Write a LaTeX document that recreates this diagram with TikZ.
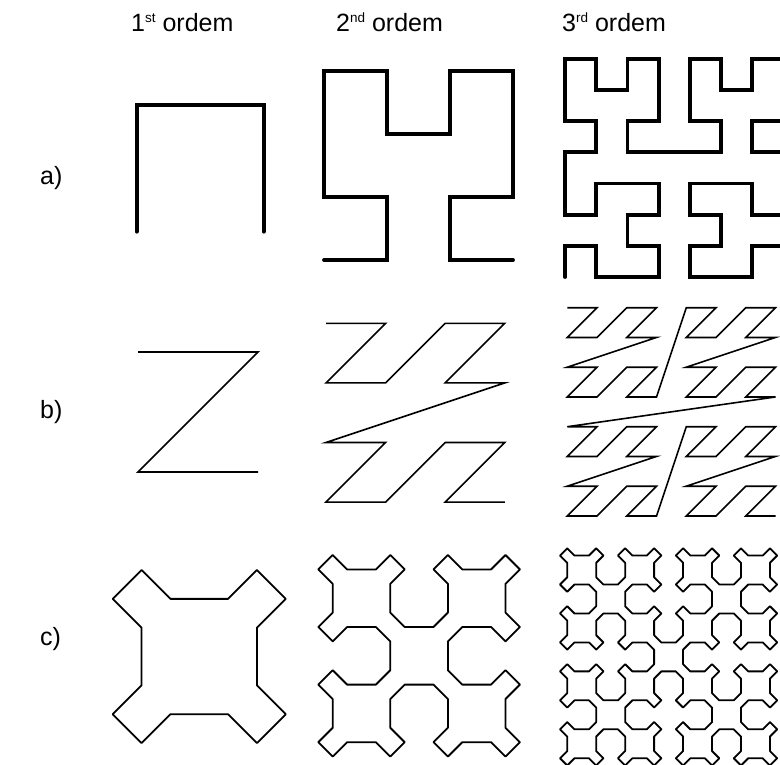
\documentclass[tikz,border=0pt]{standalone}
\usepackage{fontspec}
\setmainfont{Liberation Sans}
\usetikzlibrary{lindenmayersystems}

\pgfdeclarelindenmayersystem{Hilbert curve}{
  \rule{L -> +RF-LFL-FR+}
  \rule{R -> -LF+RFR+FL-}}

% Sierpinski curve (Wirth): the segments are collected in \sierpath
\newcommand\sierpath{}
\newcommand\sierseg[2]{\xdef\sierpath{\sierpath -- ++(#1,#2)}}
\newcommand\sierA[1]{\ifnum#1>0 \sierA{\numexpr#1-1\relax}\sierseg{1}{1}\sierB{\numexpr#1-1\relax}\sierseg{2}{0}\sierD{\numexpr#1-1\relax}\sierseg{1}{-1}\sierA{\numexpr#1-1\relax}\fi}
\newcommand\sierB[1]{\ifnum#1>0 \sierB{\numexpr#1-1\relax}\sierseg{-1}{1}\sierC{\numexpr#1-1\relax}\sierseg{0}{2}\sierA{\numexpr#1-1\relax}\sierseg{1}{1}\sierB{\numexpr#1-1\relax}\fi}
\newcommand\sierC[1]{\ifnum#1>0 \sierC{\numexpr#1-1\relax}\sierseg{-1}{-1}\sierD{\numexpr#1-1\relax}\sierseg{-2}{0}\sierB{\numexpr#1-1\relax}\sierseg{-1}{1}\sierC{\numexpr#1-1\relax}\fi}
\newcommand\sierD[1]{\ifnum#1>0 \sierD{\numexpr#1-1\relax}\sierseg{1}{-1}\sierA{\numexpr#1-1\relax}\sierseg{0}{-2}\sierC{\numexpr#1-1\relax}\sierseg{-1}{-1}\sierD{\numexpr#1-1\relax}\fi}
\newcommand\sierS[1]{\gdef\sierpath{}\sierA{#1}\sierseg{1}{1}\sierB{#1}\sierseg{-1}{1}\sierC{#1}\sierseg{-1}{-1}\sierD{#1}}

\newcommand\ordsup[1]{\raisebox{9.5pt}{\fontsize{13.5}{13.5}\selectfont #1}}

\tikzset{
  lbl/.style={inner sep=0pt, font=\fontsize{25}{29}\selectfont},
  hilb/.style={line width=3.8pt, line cap=round},
  zline/.style={line width=1.6pt},
  sier/.style={line width=1.8pt, line join=round}
}

\begin{document}
\begin{tikzpicture}[x=1pt,y=-1pt]
\useasboundingbox (0,0) rectangle (780,764);
\clip (0,0) rectangle (780,764);

% column heads and row labels
\node[lbl, anchor=base west] (o1) at (131,31.5) {1\ordsup{st} ordem};
\node[lbl, anchor=base west] (o2) at (336,31.5) {2\ordsup{nd} ordem};
\node[lbl, anchor=base west] (o3) at (562,31.5) {3\ordsup{rd} ordem};
\node[lbl, anchor=base west] (ra) at (40,184) {a)};
\node[lbl, anchor=base west] (rb) at (40,418) {b)};
\node[lbl, anchor=base west] (rc) at (40,645) {c)};

% a) Hilbert
\draw[hilb, shift={(136.7,231.7)}, lindenmayer system={Hilbert curve, axiom=L, order=1, step=127pt, angle=90}] lindenmayer system;
\draw[hilb, shift={(324,260)}, lindenmayer system={Hilbert curve, axiom=L, order=2, step=63pt, angle=90}] lindenmayer system;
\draw[hilb, shift={(565,277)}, lindenmayer system={Hilbert curve, axiom=L, order=3, step=31.2pt, angle=90}] lindenmayer system;

% b) Z-order
\foreach \zx/\zy/\zs/\last in {138/352/120/3, 326/323.3/59.6/15, 567.3/307.7/29.75/63}{
  \draw[zline, shift={(\zx,\zy)}, scale=\zs] (0,0)
    \foreach \i in {1,...,\last}{ -- ({mod(\i,2)+2*mod(div(\i,4),2)+4*mod(div(\i,16),2)},{mod(div(\i,2),2)+2*mod(div(\i,8),2)+4*mod(div(\i,32),2)}) };
}

% c) Sierpinski
\sierS{1}
\draw[sier, shift={(112.7,570)}, scale=28.85] (1,0) \sierpath -- cycle;
\sierS{2}
\draw[sier, shift={(318.3,555)}, scale=14.4] (1,0) \sierpath -- cycle;
\sierS{3}
\draw[sier, shift={(560,548.3)}, scale=7.24] (1,0) \sierpath -- cycle;
\end{tikzpicture}
\end{document}
